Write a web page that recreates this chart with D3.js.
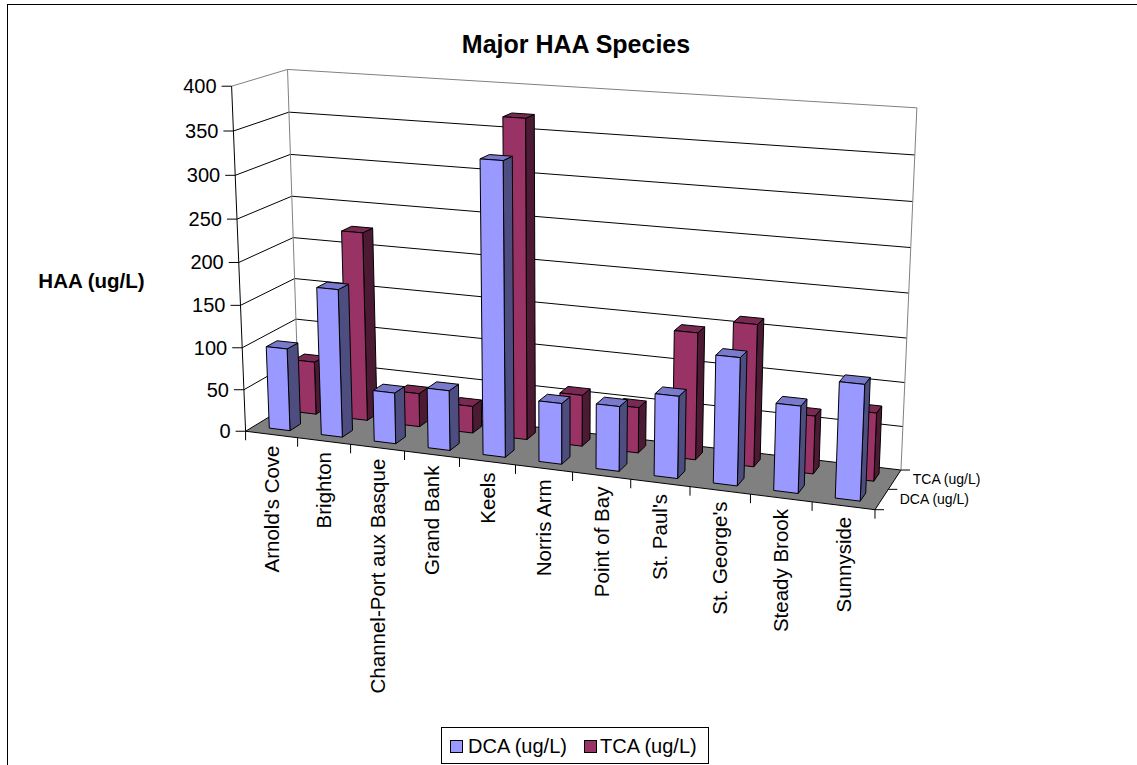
<!DOCTYPE html>
<html>
<head>
<meta charset="utf-8">
<script src="https://cdn.jsdelivr.net/npm/d3@7"></script>
<style>
  body { margin: 0; background: #fff; }
  svg { display: block; }
  text { font-family: "Liberation Sans", Arial, Helvetica, sans-serif; fill: #000; }
</style>
</head>
<body>
<svg id="chart" width="1137" height="765"></svg>
<script>
// ---- data ----
const categories = ["Arnold's Cove", "Brighton", "Channel-Port aux Basque", "Grand Bank", "Keels",
  "Norris Arm", "Point of Bay", "St. Paul's", "St. George's", "Steady Brook", "Sunnyside"];
const seriesNames = ["DCA (ug/L)", "TCA (ug/L)"];
const dcaValues = [98, 174, 60, 70, 335, 70, 74, 93, 143, 97, 128];
const tcaValues = [64, 225, 40, 32, 370, 60, 53, 146, 162, 66, 77];
const valueTicks = [0, 50, 100, 150, 200, 250, 300, 350, 400];

const seriesColors = {
  "DCA (ug/L)": { front: "#9999ff", side: "#4d4d80", top: "#7a7acc" },
  "TCA (ug/L)": { front: "#993366", side: "#4d1a33", top: "#7a2952" }
};

// ---- 3D plot box: unit cube (u = category, v = value, w = depth, 0 = front) ----
// Screen placement of the box, used to calibrate a perspective camera.
const boxAnchors = [
  [[0, 0, 0], [245, 430]], [[0, 1, 0], [232, 87]],
  [[0, 0, 1], [299, 402]], [[0, 1, 1], [287, 69]],
  [[1, 0, 0], [875, 511]], [[1, 0, 1], [901, 467]],
  [[1, 1, 1], [917, 108]]
];
// front floor edge divisions and front value-axis divisions
const frontEdgeX = [298.3, 350.7, 405, 460, 515, 573.3, 630, 689.5, 751, 811.7];
frontEdgeX.forEach((x, k) => boxAnchors.push([[(k + 1) / 11, 0, 0], [x, 430 + (x - 245) * 81 / 630]]));
const frontAxisY = [390, 347, 306, 262, 219, 175, 131];
frontAxisY.forEach((y, k) => boxAnchors.push([[0, (k + 1) / 8, 0], [245 - 13 * (430 - y) / 343, y]]));

// least-squares 3x4 projection matrix (last entry fixed to 1)
function calibrate(pairs) {
  const n = 11;
  const M = Array.from({ length: n }, () => new Array(n + 1).fill(0));
  const addRow = (a, b) => {
    for (let i = 0; i < n; i++) {
      for (let j = 0; j < n; j++) M[i][j] += a[i] * a[j];
      M[i][n] += a[i] * b;
    }
  };
  pairs.forEach(([[X, Y, Z], [x, y]]) => {
    addRow([X, Y, Z, 1, 0, 0, 0, 0, -x * X, -x * Y, -x * Z], x);
    addRow([0, 0, 0, 0, X, Y, Z, 1, -y * X, -y * Y, -y * Z], y);
  });
  for (let c = 0; c < n; c++) {
    let p = c;
    for (let r = c + 1; r < n; r++) if (Math.abs(M[r][c]) > Math.abs(M[p][c])) p = r;
    [M[c], M[p]] = [M[p], M[c]];
    for (let r = 0; r < n; r++) {
      if (r === c) continue;
      const f = M[r][c] / M[c][c];
      for (let k = c; k <= n; k++) M[r][k] -= f * M[c][k];
    }
  }
  return M.map((row, i) => row[n] / row[i]);
}
const P = calibrate(boxAnchors);
function project(u, v, w) {
  const d = P[8] * u + P[9] * v + P[10] * w + 1;
  return [(P[0] * u + P[1] * v + P[2] * w + P[3]) / d,
          (P[4] * u + P[5] * v + P[6] * w + P[7]) / d];
}

// ---- scales ----
const xBand = d3.scaleBand().domain(categories).range([0, 1]).paddingInner(0.6).paddingOuter(0.3);
const zBand = d3.scaleBand().domain(seriesNames).range([0, 1]).paddingInner(0.6).paddingOuter(0.3);
const yScale = d3.scaleLinear().domain([0, 400]).range([0, 1]);

const svg = d3.select("#chart");
const poly = d3.line().curve(d3.curveLinearClosed);
const face = pts => poly(pts.map(p => project(...p)));
const seg = (a, b) => "M" + project(...a).join(",") + "L" + project(...b).join(",");

// chart border
svg.append("rect").attr("x", 7.5).attr("y", 4.5).attr("width", 1140).attr("height", 800)
  .attr("fill", "#fff").attr("stroke", "#000").attr("stroke-width", 1);

// title
svg.append("text").attr("x", 576).attr("y", 53).attr("text-anchor", "middle")
  .style("font-size", "25px").style("font-weight", "bold").text("Major HAA Species");

// walls and floor
const walls = svg.append("g");
walls.append("path").attr("d", face([[0, 0, 0], [0, 1, 0], [0, 1, 1], [0, 0, 1]])).attr("fill", "#fff");
walls.append("path").attr("d", face([[0, 0, 1], [0, 1, 1], [1, 1, 1], [1, 0, 1]])).attr("fill", "#fff");
walls.append("path").attr("d", face([[0, 0, 0], [1, 0, 0], [1, 0, 1], [0, 0, 1]])).attr("fill", "#808080");

// gridlines on side and back walls
const grid = svg.append("g").attr("stroke", "#000").attr("stroke-width", 1).attr("fill", "none");
valueTicks.filter(t => t < 400).forEach(t => {
  const v = yScale(t);
  grid.append("path").attr("d", seg([0, v, 0], [0, v, 1]));
  grid.append("path").attr("d", seg([0, v, 1], [1, v, 1]));
});
// wall outlines
const edges = svg.append("g").attr("stroke", "#808080").attr("stroke-width", 1).attr("fill", "none");
edges.append("path").attr("d", seg([0, 1, 0], [0, 1, 1]));
edges.append("path").attr("d", seg([0, 1, 1], [1, 1, 1]));
edges.append("path").attr("d", seg([1, 1, 1], [1, 0, 1]));
edges.append("path").attr("d", seg([0, 0, 1], [0, 1, 1]));

// ---- axes ----
const axes = svg.append("g").attr("stroke", "#000").attr("stroke-width", 1).attr("fill", "none");
// value axis (front-left edge)
axes.append("path").attr("d", seg([0, 0, 0], [0, 1, 0]));
valueTicks.forEach(t => {
  const [x, y] = project(0, yScale(t), 0);
  axes.append("line").attr("x1", x - 10).attr("x2", x).attr("y1", y).attr("y2", y);
  svg.append("text").attr("x", x - 15).attr("y", y).attr("dy", "0.35em")
    .attr("text-anchor", "end").style("font-size", "20px").text(t);
});
// category axis (front floor edge)
axes.append("path").attr("d", seg([0, 0, 0], [1, 0, 0]));
d3.range(categories.length + 1).forEach(k => {
  const [x, y] = project(k * xBand.step(), 0, 0);
  axes.append("line").attr("x1", x).attr("x2", x).attr("y1", y).attr("y2", y + 9);
});
categories.forEach(c => {
  const [x, y] = project(xBand(c) + xBand.bandwidth() / 2, 0, 0);
  svg.append("text").attr("transform", `translate(${x},${y + 11}) rotate(-90)`)
    .attr("dy", "0.35em").attr("text-anchor", "end").style("font-size", "20.5px").text(c);
});
// series (depth) axis (right floor edge)
axes.append("path").attr("d", seg([1, 0, 0], [1, 0, 1]));
[0, 0.5, 1].forEach(w => {
  const [x, y] = project(1, 0, w);
  axes.append("line").attr("x1", x).attr("x2", x + 9).attr("y1", y).attr("y2", y);
});
seriesNames.forEach(s => {
  const [x, y] = project(1, 0, zBand(s) + zBand.bandwidth() / 2);
  svg.append("text").attr("x", x + 18).attr("y", y).attr("dy", "0.35em")
    .style("font-size", "14px").text(s);
});

// ---- bars: back row first, then front row ----
const seriesData = { "DCA (ug/L)": dcaValues, "TCA (ug/L)": tcaValues };
const bars = svg.append("g").attr("stroke", "#000").attr("stroke-width", 1).attr("stroke-linejoin", "round");
seriesNames.slice().reverse().forEach(s => {
  const col = seriesColors[s];
  const w0 = zBand(s), w1 = w0 + zBand.bandwidth();
  categories.forEach((c, i) => {
    const u0 = xBand(c), u1 = u0 + xBand.bandwidth();
    const v1 = yScale(seriesData[s][i]);
    const g = bars.append("g");
    g.append("path").attr("fill", col.side)
      .attr("d", face([[u1, 0, w0], [u1, 0, w1], [u1, v1, w1], [u1, v1, w0]]));
    g.append("path").attr("fill", col.top)
      .attr("d", face([[u0, v1, w0], [u1, v1, w0], [u1, v1, w1], [u0, v1, w1]]));
    g.append("path").attr("fill", col.front)
      .attr("d", face([[u0, 0, w0], [u1, 0, w0], [u1, v1, w0], [u0, v1, w0]]));
  });
});

// value axis title
svg.append("text").attr("x", 91.5).attr("y", 288).attr("text-anchor", "middle")
  .style("font-size", "20.5px").style("font-weight", "bold").text("HAA (ug/L)");

// ---- legend ----
const legend = svg.append("g");
legend.append("rect").attr("x", 441.5).attr("y", 727.5).attr("width", 267).attr("height", 36)
  .attr("fill", "#fff").attr("stroke", "#000");
const legendX = [{ sw: 450, tx: 468 }, { sw: 584, tx: 600 }];
seriesNames.forEach((s, i) => {
  legend.append("rect").attr("x", legendX[i].sw + 0.5).attr("y", 740.5).attr("width", 12).attr("height", 12)
    .attr("fill", seriesColors[s].front).attr("stroke", "#000");
  legend.append("text").attr("x", legendX[i].tx).attr("y", 753).style("font-size", "20px").text(s);
});
</script>
</body>
</html>
